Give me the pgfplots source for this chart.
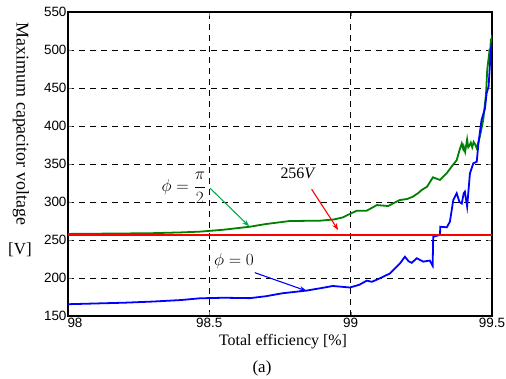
\documentclass[border=0pt]{standalone}
\usepackage{pgfplots}
\pgfplotsset{compat=1.18}
\usepackage{fontspec}
\setmainfont{Liberation Serif}
\newfontfamily\tickfont{Liberation Sans}
\usetikzlibrary{calc,arrows.meta}
\definecolor{dgreen}{RGB}{0,128,0}
\definecolor{agreen}{RGB}{0,170,80}
\begin{document}
\begin{tikzpicture}
\begin{axis}[name=ax,
  scale only axis, width=424bp, height=304bp,
  xmin=98, xmax=99.5, ymin=150, ymax=550,
  xtick={98,98.5,99,99.5}, ytick={150,200,...,550},
  xticklabels={\hspace*{14bp}98,98.5,99,99.5},
  /pgf/number format/assume math mode=true,
  ticklabel style={font=\tickfont\fontsize{13.5}{13.5}\selectfont},
  xticklabel style={yshift=1bp},
  yticklabel style={xshift=2bp},
  tick align=inside, major tick length=4bp,
  axis line style={line width=1.3pt},
  grid=major, major grid style={black, line width=0.6pt, dash pattern=on 6bp off 5bp},
  clip=true,
]
\addplot[dgreen, line width=1.8pt] coordinates {
(98.00,258) (98.10,258.3) (98.20,258.6) (98.30,259) (98.40,260) (98.467,261)
(98.55,263.5) (98.644,267.5) (98.70,271) (98.785,275) (98.891,275.4) (98.94,277)
(98.973,279.8) (98.99,283) (99.022,288.6) (99.057,288.6) (99.093,296) (99.132,294.7)
(99.174,302.6) (99.20,304) (99.22,307) (99.24,312) (99.251,315.8) (99.27,320)
(99.291,332.5) (99.316,329) (99.34,338) (99.357,346.5) (99.375,355) (99.385,368)
(99.393,377) (99.398,370) (99.40,373) (99.405,366) (99.412,382.5) (99.416,372) (99.42,374)
(99.425,378) (99.43,372) (99.435,379) (99.44,376) (99.446,370.6) (99.457,386)
(99.469,408) (99.479,443) (99.483,473.7) (99.49,495.6) (99.493,490) (99.496,515) (99.498,505) (99.50,520)};
\addplot[blue, line width=1.8pt] coordinates {
(98.00,165.5) (98.10,166.5) (98.20,167.5) (98.30,169) (98.40,171) (98.467,173.3)
(98.55,174) (98.644,173.5) (98.70,176) (98.76,180) (98.845,183.5) (98.90,187)
(98.937,189.5) (98.997,187.5) (99.03,191) (99.057,196.5) (99.075,195) (99.10,199)
(99.139,206) (99.174,219) (99.192,228) (99.205,222) (99.216,220) (99.234,226)
(99.257,221.5) (99.28,223) (99.29,216) (99.292,254.3) (99.316,256.6) (99.317,267.5)
(99.34,266.7) (99.351,274) (99.363,302.6) (99.375,311.5) (99.385,300) (99.393,298)
(99.40,311.5) (99.404,313.6) (99.412,294) (99.422,337.7) (99.434,351) (99.446,353)
(99.452,377) (99.463,408) (99.475,423) (99.481,443) (99.488,452) (99.493,482.5)
(99.497,504) (99.50,510)};
\addplot[red, line width=2pt] coordinates {(98,256) (99.5,256)};
\draw[agreen, line width=1.1pt, -{Stealth[length=7bp,width=5bp]}] (axis cs:98.503,318) -- (axis cs:98.641,268);
\draw[red, line width=1.1pt, -{Stealth[length=7bp,width=5bp]}] (axis cs:98.862,316.7) -- (axis cs:98.956,263);
\draw[blue, line width=1.1pt, -{Stealth[length=7bp,width=5bp]}] (axis cs:98.661,207) -- (axis cs:98.844,183);
\node[font=\fontsize{17}{17}\selectfont] at (axis cs:98.41,318.4) {$\phi=\displaystyle\frac{\pi}{2}$};
\node[font=\fontsize{16}{16}\selectfont] at (axis cs:98.814,338) {256\textit{V}};
\node[font=\fontsize{16}{16}\selectfont] at (axis cs:98.587,222) {$\phi=0$};
\end{axis}
\node[rotate=-90, font=\fontsize{18}{18}\selectfont] at ($(ax.south west)+(-47bp,192bp)$) {Maximum capacitor voltage};
\node[font=\fontsize{17}{17}\selectfont] at ($(ax.south west)+(-48bp,66bp)$) {[V]};
\node[font=\fontsize{16}{16}\selectfont] at ($(ax.south west)+(215bp,-26bp)$) {Total efficiency [\%]};
\node[font=\fontsize{17}{17}\selectfont] at ($(ax.south west)+(194bp,-52bp)$) {(a)};
\pgfresetboundingbox
\path ($(ax.south west)+(-68bp,-63bp)$) rectangle ($(ax.north east)+(14bp,12bp)$);
\end{tikzpicture}
\end{document}
